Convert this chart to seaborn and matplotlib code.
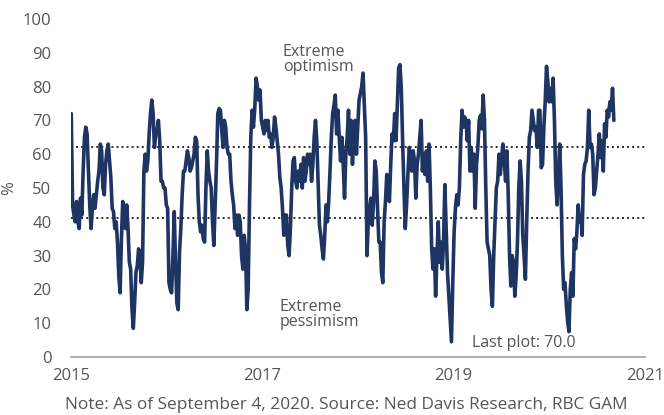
import numpy as np
import pandas as pd
import matplotlib
matplotlib.use("Agg")
import matplotlib.pyplot as plt
import matplotlib.dates as mdates
import seaborn as sns

# Investor sentiment readings (% bullish), sampled evenly through time
block1 = [72, 45, 42, 40, 46, 40, 38, 47, 42, 55, 65, 68, 66, 55, 45, 38, 44, 48, 44,
          48, 52, 55, 63, 61, 50, 48, 57, 61, 63, 58, 53, 44, 43, 38, 40, 34, 24, 19,
          35, 46, 42, 38, 45, 38, 28, 26, 14, 8.5, 16, 25, 27, 32, 30, 22, 28, 55, 60]
block2 = [55, 58, 66, 72, 76, 72, 62, 66, 67, 70, 64, 52, 52, 50, 50, 45, 44, 22, 20,
          19, 30, 43, 28, 16, 14, 31, 38, 48, 55, 55, 58, 61, 59, 55, 56, 58, 60, 65,
          64, 48, 40, 37, 39, 35, 34, 50, 61, 55, 52, 50, 40, 33, 45, 57, 72, 73.5, 73,
          67, 62]
block3 = [70, 68, 62, 60, 60, 52, 48, 45, 38, 42, 36, 42, 40, 30, 26, 36, 32, 14, 20,
          45, 65, 73, 68, 73.5, 82.5, 80, 76, 79, 70, 68, 66, 70, 67, 70, 65, 66, 62,
          65, 71, 68, 64, 60, 53, 50, 44, 36, 42, 42, 33, 30, 38, 50, 58, 59, 52, 50,
          55, 52, 57]
block4 = [50, 59, 52, 55, 60, 57, 60, 52, 57, 65, 70, 64, 52, 39, 36, 32, 29, 36, 45,
          40, 46, 55, 65, 72, 74.5, 77.5, 66, 73, 65, 58, 65, 57, 47, 60, 65, 73, 60,
          70, 57, 65, 70, 60, 68, 76, 78, 80, 84, 74.5, 65, 30, 40, 44, 47, 39, 46, 58,
          55, 44, 34]
block5 = [34, 25, 22, 40, 46, 54, 50, 46, 57, 66, 64, 72, 64, 74.5, 85.5, 86.5, 79.5,
          64, 50, 38, 45, 54, 62, 60, 55, 61, 58, 47, 57, 60, 65, 70, 55, 60, 54, 61,
          52, 63, 50, 32, 26, 32, 18, 30, 40, 28, 34, 26, 34, 51, 38, 25, 18, 10.5, 4.5,
          22, 37, 44, 48]
block6 = [45, 50, 64, 73, 68, 71, 70, 64, 70, 55, 62, 55, 60, 44, 57, 62, 70, 71.5,
          67.5, 77.5, 70, 50, 34, 32, 30, 20, 15, 30, 40, 50, 52, 60, 54, 59, 63, 58, 52,
          61, 48, 30, 21, 30, 28, 18, 24, 34, 50, 58, 52, 36, 30, 23, 40, 55, 65, 67, 73,
          70, 67]
block7 = [68, 62, 73, 73, 56, 57, 68, 75.5, 86, 81.5, 75.5, 79.5, 75.5, 82.5, 70, 52,
          45, 54, 63, 50, 30, 20, 22, 15.4, 10.5, 7.5, 20, 25, 18, 35, 32, 37, 45, 40,
          42, 36, 54, 57, 58, 62, 73, 62, 63, 60, 48, 50, 55, 60, 66, 59, 64, 55, 69, 65,
          73, 71, 75.5, 73, 79.5]
last_value = 70.0

start_date = "2015-01-02"
end_date = "2020-09-04"

extreme_optimism = 62
extreme_pessimism = 41

year_ticks = ["2015", "2017", "2019", "2021"]
pct_ticks = [0, 10, 20, 30, 40, 50, 60, 70, 80, 90, 100]

NAVY = "#1e3463"
GREY_TEXT = "#555555"

values = np.concatenate([block1, block2, block3, block4, block5, block6, block7,
                         [last_value]])
dates = pd.date_range(start_date, end_date, periods=len(values))
df = pd.DataFrame({"date": dates, "pct": values})

sns.set_theme(style="white")
plt.rcParams["font.family"] = ["Open Sans", "DejaVu Sans"]

W, H = 664, 415
fig = plt.figure(figsize=(W / 100, H / 100), dpi=100)
ax = fig.add_axes([71 / W, 1 - 357 / H, (645 - 71) / W, (357 - 19) / H])

sns.lineplot(data=df, x="date", y="pct", color=NAVY, linewidth=2.6, ax=ax,
             solid_joinstyle="round")

for level in (extreme_optimism, extreme_pessimism):
    ax.axhline(level, color="#2b2b2b", linewidth=1.4, linestyle=(0, (1, 1.6)),
               zorder=1)

ax.set_ylim(0, 100)
ax.set_xlim(pd.Timestamp(year_ticks[0] + "-01-01"), pd.Timestamp(year_ticks[-1] + "-01-01"))
ax.set_yticks(pct_ticks)
ax.set_xticks([pd.Timestamp(y + "-01-01") for y in year_ticks])
ax.xaxis.set_major_formatter(mdates.DateFormatter("%Y"))

for side in ("left", "right", "top"):
    ax.spines[side].set_visible(False)
ax.spines["bottom"].set_color("#a0a0a0")
ax.spines["bottom"].set_linewidth(1.2)

ax.tick_params(axis="y", length=0, pad=14, labelsize=12, labelcolor=GREY_TEXT)
ax.tick_params(axis="x", length=0, pad=8, labelsize=12, labelcolor=GREY_TEXT)
ax.set_xlabel("")
ax.set_ylabel("%", fontsize=12, color=GREY_TEXT, labelpad=4)
ax.grid(False)

ax.text(pd.Timestamp("2017-03-20"), 88, "Extreme\noptimism", fontsize=11.5,
        color=GREY_TEXT, ha="left", va="center", linespacing=0.95)
ax.text(pd.Timestamp("2017-03-07"), 12.5, "Extreme\npessimism", fontsize=11.5,
        color=GREY_TEXT, ha="left", va="center", linespacing=0.95)
ax.text(pd.Timestamp("2019-03-14"), 4, f"Last plot: {last_value:.1f}", fontsize=11.5,
        color=GREY_TEXT, ha="left", va="center")

fig.text(346 / W, 1 - 405 / H,
         "Note: As of September 4, 2020. Source: Ned Davis Research, RBC GAM",
         fontsize=12.4, color=GREY_TEXT, ha="center", va="center")

fig.savefig("out.png", dpi=100)
